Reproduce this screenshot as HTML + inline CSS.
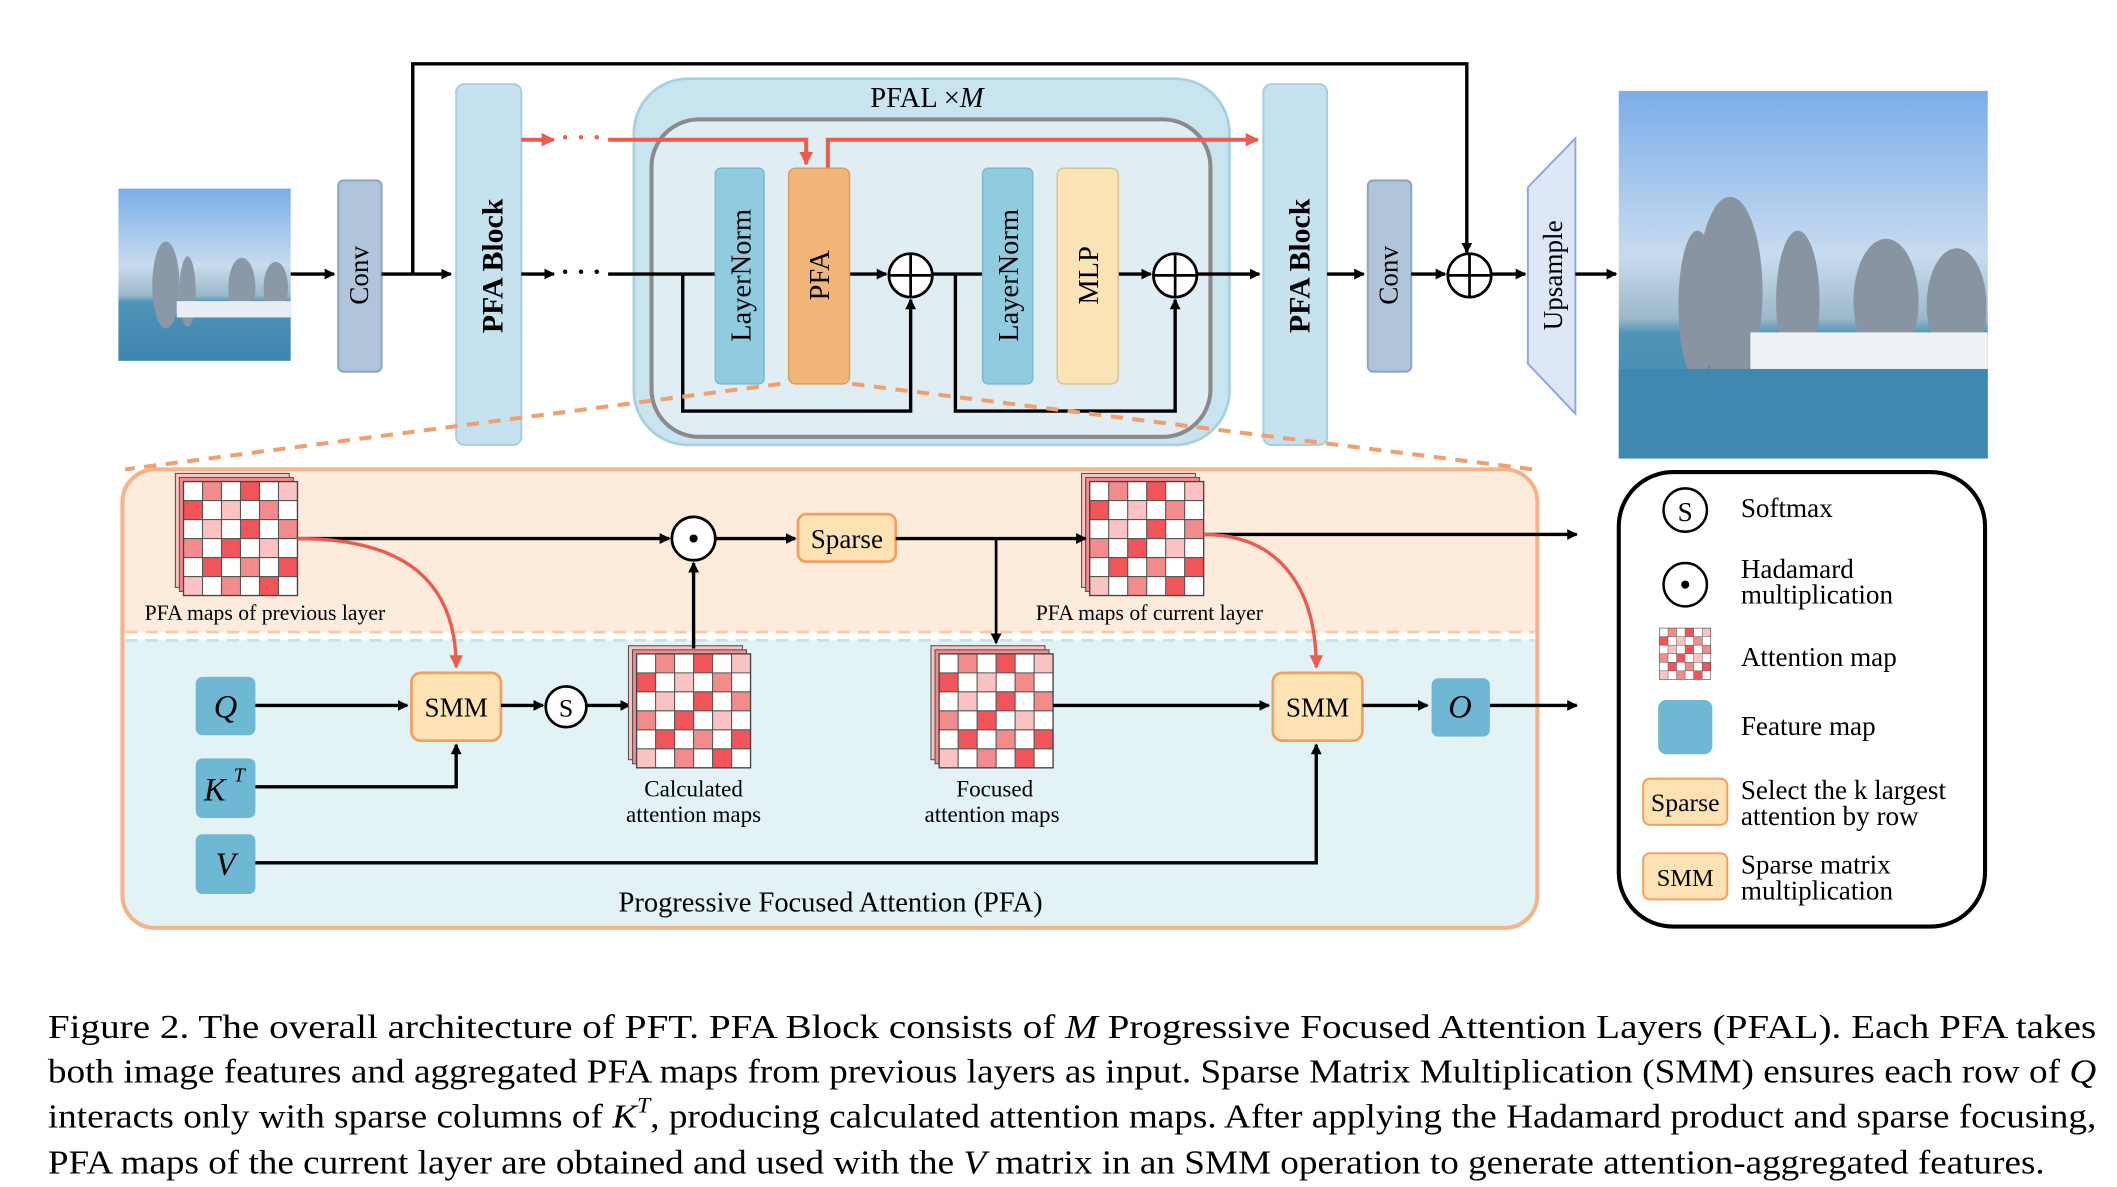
<!DOCTYPE html>
<html><head><meta charset="utf-8"><style>
html,body{margin:0;padding:0;background:#fff;}
svg{display:block;}
text{font-family:"Liberation Serif",serif;}
</style></head><body>
<svg width="2117" height="1187" viewBox="0 0 1560 875" xmlns="http://www.w3.org/2000/svg">
<defs>
<marker id="ab" markerWidth="8" markerHeight="8" refX="7" refY="4" orient="auto" markerUnits="userSpaceOnUse"><path d="M0,0 L8,4 L0,8 Z" fill="#000"/></marker>
<marker id="ar" markerWidth="10" markerHeight="10" refX="9" refY="5" orient="auto" markerUnits="userSpaceOnUse"><path d="M0,0 L10,5 L0,10 Z" fill="#ec5b4f"/></marker>
<g id="grid">
<rect x="0" y="0" width="84" height="84" fill="#fff"/>
<rect x="14" y="0" width="14" height="14" fill="#f28b8b"/><rect x="42" y="0" width="14" height="14" fill="#f0555a"/><rect x="70" y="0" width="14" height="14" fill="#f9c3c3"/>
<rect x="0" y="14" width="14" height="14" fill="#f0555a"/><rect x="28" y="14" width="14" height="14" fill="#f9c3c3"/><rect x="56" y="14" width="14" height="14" fill="#f28b8b"/>
<rect x="14" y="28" width="14" height="14" fill="#f9c3c3"/><rect x="42" y="28" width="14" height="14" fill="#f0555a"/><rect x="70" y="28" width="14" height="14" fill="#f28b8b"/>
<rect x="0" y="42" width="14" height="14" fill="#f28b8b"/><rect x="28" y="42" width="14" height="14" fill="#f0555a"/><rect x="56" y="42" width="14" height="14" fill="#f9c3c3"/>
<rect x="14" y="56" width="14" height="14" fill="#f0555a"/><rect x="42" y="56" width="14" height="14" fill="#f28b8b"/><rect x="70" y="56" width="14" height="14" fill="#f0555a"/>
<rect x="0" y="70" width="14" height="14" fill="#f9c3c3"/><rect x="28" y="70" width="14" height="14" fill="#f28b8b"/><rect x="56" y="70" width="14" height="14" fill="#f0555a"/>
<path d="M14,0V84M28,0V84M42,0V84M56,0V84M70,0V84M0,14H84M0,28H84M0,42H84M0,56H84M0,70H84" stroke="#555" stroke-width="0.8"/>
<rect x="0" y="0" width="84" height="84" fill="none" stroke="#444" stroke-width="1"/>
</g>
<g id="stack">
<rect x="-6" y="-6" width="84" height="84" fill="#f9c3c3" stroke="#555" stroke-width="0.8"/>
<rect x="-3" y="-3" width="84" height="84" fill="#f28b8b" stroke="#555" stroke-width="0.8"/>
<use href="#grid"/>
</g>
<linearGradient id="sky" x1="0" y1="0" x2="0" y2="1"><stop offset="0" stop-color="#7aaee8"/><stop offset="0.45" stop-color="#c9dbef"/><stop offset="0.62" stop-color="#9ab8c8"/><stop offset="0.66" stop-color="#4f93b8"/><stop offset="1" stop-color="#3e86ad"/></linearGradient>
</defs>

<!-- Input image -->
<rect x="87" y="139" width="127" height="127" fill="url(#sky)"/>
<g fill="#8a98a8"><ellipse cx="122" cy="210" rx="10" ry="32"/><ellipse cx="138" cy="215" rx="6" ry="26"/><ellipse cx="178" cy="212" rx="10" ry="22"/><ellipse cx="203" cy="212" rx="9" ry="19"/></g>
<rect x="130" y="222" width="84" height="12" fill="#e8eef2"/>

<!-- top skip -->
<path d="M304,202 V47 H1081 V186" fill="none" stroke="#000" stroke-width="2.5" marker-end="url(#ab)"/>

<!-- Conv 1 -->
<rect x="249" y="133" width="32" height="141" rx="4" fill="#b0c4da" stroke="#8fa6c0" stroke-width="1.5"/>
<text transform="translate(271,203) rotate(-90)" text-anchor="middle" font-size="20">Conv</text>
<path d="M214,202 H246" stroke="#000" stroke-width="2.5" marker-end="url(#ab)"/>
<path d="M281,202 H332" stroke="#000" stroke-width="2.5" marker-end="url(#ab)"/>

<!-- PFA Block 1 -->
<rect x="336" y="62" width="48" height="266" rx="6" fill="#c6e2ee" stroke="#a8cfe0" stroke-width="1.5"/>
<text transform="translate(370,196) rotate(-90)" text-anchor="middle" font-size="22" font-weight="bold">PFA Block</text>

<!-- PFAL -->
<rect x="467" y="58" width="439" height="270" rx="40" fill="#c8e4ef" stroke="#a6cfe0" stroke-width="2"/>
<text x="683" y="79" text-anchor="middle" font-size="21">PFAL ×<tspan font-style="italic">M</tspan></text>
<rect x="480" y="88" width="412" height="234" rx="35" fill="#e0eef4" stroke="#8a8a8a" stroke-width="3"/>

<!-- dots black -->
<path d="M384,202 H408" stroke="#000" stroke-width="2.5" marker-end="url(#ab)"/>
<text x="428" y="207" text-anchor="middle" font-size="20" font-weight="bold">· · ·</text>
<path d="M448,202 H527" stroke="#000" stroke-width="2.5"/>
<!-- red -->
<path d="M384,103 H408" stroke="#ec5b4f" stroke-width="3" marker-end="url(#ar)"/>
<text x="428" y="108" text-anchor="middle" font-size="20" font-weight="bold" fill="#ec5b4f">· · ·</text>
<path d="M448,103 H594 V121" fill="none" stroke="#ec5b4f" stroke-width="3" marker-end="url(#ar)"/>
<path d="M610,124 V103 H927" fill="none" stroke="#ec5b4f" stroke-width="3" marker-end="url(#ar)"/>

<!-- residuals -->
<path d="M503,202 V303 H671 V221" fill="none" stroke="#000" stroke-width="2.5" marker-end="url(#ab)"/>
<path d="M704,202 V303 H866 V221" fill="none" stroke="#000" stroke-width="2.5" marker-end="url(#ab)"/>
<path d="M626,202 H653" stroke="#000" stroke-width="2.5" marker-end="url(#ab)"/>
<path d="M687,202 H724" stroke="#000" stroke-width="2.5"/>
<path d="M824,202 H848" stroke="#000" stroke-width="2.5" marker-end="url(#ab)"/>
<path d="M882,202 H928" stroke="#000" stroke-width="2.5" marker-end="url(#ab)"/>

<rect x="527" y="124" width="36" height="159" rx="4" fill="#90cbe0" stroke="#7ab6cc"/>
<text transform="translate(553,203) rotate(-90)" text-anchor="middle" font-size="21">LayerNorm</text>
<rect x="581" y="124" width="45" height="159" rx="5" fill="#f0b577" stroke="#d99a5a"/>
<text transform="translate(611,203) rotate(-90)" text-anchor="middle" font-size="21">PFA</text>
<rect x="724" y="124" width="37" height="159" rx="4" fill="#90cbe0" stroke="#7ab6cc"/>
<text transform="translate(750,203) rotate(-90)" text-anchor="middle" font-size="21">LayerNorm</text>
<rect x="779" y="124" width="45" height="159" rx="5" fill="#fbe3b6" stroke="#d8c090"/>
<text transform="translate(809,203) rotate(-90)" text-anchor="middle" font-size="21">MLP</text>

<g fill="#fff" stroke="#000" stroke-width="2">
<circle cx="671" cy="203" r="16"/><circle cx="866" cy="203" r="16"/><circle cx="1083" cy="203" r="16"/>
</g>
<path d="M655,203H687M671,187V219M850,203H882M866,187V219M1067,203H1099M1083,187V219" stroke="#000" stroke-width="2"/>

<!-- PFA Block 2 -->
<rect x="931" y="62" width="47" height="266" rx="6" fill="#c6e2ee" stroke="#a8cfe0" stroke-width="1.5"/>
<text transform="translate(965,196) rotate(-90)" text-anchor="middle" font-size="22" font-weight="bold">PFA Block</text>
<path d="M978,202 H1005" stroke="#000" stroke-width="2.5" marker-end="url(#ab)"/>
<rect x="1008" y="133" width="32" height="141" rx="4" fill="#b0c4da" stroke="#8fa6c0" stroke-width="1.5"/>
<text transform="translate(1030,203) rotate(-90)" text-anchor="middle" font-size="20">Conv</text>
<path d="M1040,202 H1065" stroke="#000" stroke-width="2.5" marker-end="url(#ab)"/>
<path d="M1099,202 H1124" stroke="#000" stroke-width="2.5" marker-end="url(#ab)"/>
<path d="M1126,138 L1161,102 L1161,305 L1126,268 Z" fill="#dde7f7" stroke="#93a9d6" stroke-width="1.5"/>
<text transform="translate(1151,203) rotate(-90)" text-anchor="middle" font-size="20">Upsample</text>
<path d="M1161,202 H1191" stroke="#000" stroke-width="2.5" marker-end="url(#ab)"/>

<!-- output image -->
<rect x="1193" y="67" width="272" height="271" fill="url(#sky)"/>
<g fill="#8894a2"><ellipse cx="1275" cy="215" rx="24" ry="70"/><ellipse cx="1251" cy="225" rx="14" ry="55"/><ellipse cx="1325" cy="222" rx="16" ry="52"/><ellipse cx="1390" cy="222" rx="24" ry="46"/><ellipse cx="1442" cy="225" rx="22" ry="42"/></g>
<rect x="1290" y="245" width="175" height="28" fill="#eef2f5"/>
<rect x="1193" y="272" width="272" height="66" fill="#3f88b0"/>

<!-- dashed zoom lines -->
<path d="M575,283 L92,346" stroke="#f0a070" stroke-width="3" stroke-dasharray="9,7" fill="none"/>
<path d="M628,283 L1130,346" stroke="#f0a070" stroke-width="3" stroke-dasharray="9,7" fill="none"/>

<!-- lower panel -->
<path d="M90,466 V370 Q90,346 114,346 H1109 Q1133,346 1133,370 V466 Z" fill="#fdebdc"/>
<path d="M90,472 H1133 V660 Q1133,684 1109,684 H114 Q90,684 90,660 Z" fill="#e3f2f4"/>
<path d="M92,466 H1131" stroke="#f7c9a8" stroke-width="2" stroke-dasharray="9,6"/>
<path d="M92,472 H1131" stroke="#c8e0e2" stroke-width="2" stroke-dasharray="9,6"/>
<rect x="90" y="346" width="1043" height="338" rx="24" fill="none" stroke="#f3b48a" stroke-width="3"/>

<use href="#stack" x="135" y="355"/>
<text x="195" y="457" text-anchor="middle" font-size="16">PFA maps of previous layer</text>
<use href="#stack" x="803" y="355"/>
<text x="847" y="457" text-anchor="middle" font-size="16">PFA maps of current layer</text>

<path d="M219,397 H493" stroke="#000" stroke-width="2.5" marker-end="url(#ab)"/>
<circle cx="511" cy="397" r="16" fill="#fff" stroke="#000" stroke-width="2"/>
<circle cx="511" cy="397" r="3" fill="#000"/>
<path d="M527,397 H586" stroke="#000" stroke-width="2.5" marker-end="url(#ab)"/>
<rect x="588" y="379" width="72" height="35" rx="6" fill="#fde3b4" stroke="#f0a060" stroke-width="2"/>
<text x="624" y="404" text-anchor="middle" font-size="20">Sparse</text>
<path d="M660,397 H800" stroke="#000" stroke-width="2.5" marker-end="url(#ab)"/>
<path d="M734,397 V474" stroke="#000" stroke-width="2" marker-end="url(#ab)"/>
<path d="M887,394 H1162" stroke="#000" stroke-width="2.5" marker-end="url(#ab)"/>
<path d="M219,397 C300,397 336,430 336,492" fill="none" stroke="#ec5b4f" stroke-width="2.5" marker-end="url(#ar)"/>
<path d="M887,394 C940,394 970,430 970,492" fill="none" stroke="#ec5b4f" stroke-width="2.5" marker-end="url(#ar)"/>

<rect x="144" y="499" width="44" height="43" rx="5" fill="#6fb8d3"/>
<text x="166" y="529" text-anchor="middle" font-size="24" font-style="italic">Q</text>
<rect x="144" y="559" width="44" height="44" rx="5" fill="#6fb8d3"/>
<text x="158" y="590" text-anchor="middle" font-size="24" font-style="italic">K</text><text x="176" y="576" text-anchor="middle" font-size="15" font-style="italic">T</text>
<rect x="144" y="615" width="44" height="44" rx="5" fill="#6fb8d3"/>
<text x="166" y="645" text-anchor="middle" font-size="24" font-style="italic">V</text>
<rect x="1055" y="500" width="43" height="43" rx="5" fill="#6fb8d3"/>
<text x="1076" y="529" text-anchor="middle" font-size="24" font-style="italic">O</text>

<path d="M188,520 H300" stroke="#000" stroke-width="2.5" marker-end="url(#ab)"/>
<rect x="303" y="496" width="66" height="50" rx="7" fill="#fde3b4" stroke="#f0a060" stroke-width="2"/>
<text x="336" y="528" text-anchor="middle" font-size="20">SMM</text>
<path d="M369,520 H400" stroke="#000" stroke-width="2.5" marker-end="url(#ab)"/>
<circle cx="417" cy="521" r="15" fill="#fff" stroke="#000" stroke-width="2"/>
<text x="417" y="528" text-anchor="middle" font-size="19">S</text>
<path d="M432,520 H464" stroke="#000" stroke-width="2.5" marker-end="url(#ab)"/>
<path d="M188,580 H336 V549" fill="none" stroke="#000" stroke-width="2.5" marker-end="url(#ab)"/>
<use href="#stack" x="469" y="482"/>
<path d="M511,478 V415" stroke="#000" stroke-width="2.5" marker-end="url(#ab)"/>
<text x="511" y="587" text-anchor="middle" font-size="17">Calculated</text>
<text x="511" y="606" text-anchor="middle" font-size="17">attention maps</text>
<use href="#stack" x="692" y="482"/>
<text x="733" y="587" text-anchor="middle" font-size="17">Focused</text>
<text x="731" y="606" text-anchor="middle" font-size="17">attention maps</text>
<path d="M776,520 H935" stroke="#000" stroke-width="2.5" marker-end="url(#ab)"/>
<rect x="938" y="496" width="66" height="50" rx="7" fill="#fde3b4" stroke="#f0a060" stroke-width="2"/>
<text x="971" y="528" text-anchor="middle" font-size="20">SMM</text>
<path d="M1004,520 H1052" stroke="#000" stroke-width="2.5" marker-end="url(#ab)"/>
<path d="M1098,520 H1162" stroke="#000" stroke-width="2.5" marker-end="url(#ab)"/>
<path d="M188,636 H970 V549" fill="none" stroke="#000" stroke-width="2.5" marker-end="url(#ab)"/>
<text x="612" y="672" text-anchor="middle" font-size="21">Progressive Focused Attention (PFA)</text>

<!-- legend -->
<rect x="1193" y="348" width="270" height="335" rx="40" fill="#fff" stroke="#000" stroke-width="3"/>
<circle cx="1242" cy="376" r="16" fill="#fff" stroke="#000" stroke-width="1.8"/>
<text x="1242" y="384" text-anchor="middle" font-size="20">S</text>
<text x="1283" y="381" font-size="20">Softmax</text>
<circle cx="1242" cy="431" r="16" fill="#fff" stroke="#000" stroke-width="1.8"/>
<circle cx="1242" cy="431" r="3" fill="#000"/>
<text x="1283" y="426" font-size="20">Hadamard</text>
<text x="1283" y="445" font-size="20">multiplication</text>
<g transform="translate(1223,463) scale(0.45)"><use href="#grid"/></g>
<text x="1283" y="491" font-size="20">Attention map</text>
<rect x="1222" y="516" width="40" height="40" rx="6" fill="#6fb8d3"/>
<text x="1283" y="542" font-size="20">Feature map</text>
<rect x="1211" y="574" width="62" height="34" rx="5" fill="#fde3b4" stroke="#f0a060" stroke-width="1.5"/>
<text x="1242" y="598" text-anchor="middle" font-size="19">Sparse</text>
<text x="1283" y="589" font-size="20">Select the k largest</text>
<text x="1283" y="608" font-size="20">attention by row</text>
<rect x="1211" y="629" width="62" height="34" rx="5" fill="#fde3b4" stroke="#f0a060" stroke-width="1.5"/>
<text x="1242" y="653" text-anchor="middle" font-size="18">SMM</text>
<text x="1283" y="644" font-size="20">Sparse matrix</text>
<text x="1283" y="663" font-size="20">multiplication</text>

<!-- caption -->
<g font-size="25">
<text x="35" y="765" textLength="1510" lengthAdjust="spacingAndGlyphs">Figure 2.  The overall architecture of PFT. PFA Block consists of <tspan font-style="italic">M</tspan> Progressive Focused Attention Layers (PFAL). Each PFA takes</text>
<text x="35" y="798" textLength="1510" lengthAdjust="spacingAndGlyphs">both image features and aggregated PFA maps from previous layers as input. Sparse Matrix Multiplication (SMM) ensures each row of <tspan font-style="italic">Q</tspan></text>
<text x="35" y="831" textLength="1510" lengthAdjust="spacingAndGlyphs">interacts only with sparse columns of <tspan font-style="italic">K</tspan><tspan font-style="italic" font-size="16" dy="-11">T</tspan><tspan dy="11">, producing calculated attention maps. After applying the Hadamard product and sparse focusing,</tspan></text>
<text x="35" y="865" textLength="1472" lengthAdjust="spacingAndGlyphs">PFA maps of the current layer are obtained and used with the <tspan font-style="italic">V</tspan> matrix in an SMM operation to generate attention-aggregated features.</text>
</g>
</svg>
</body></html>
